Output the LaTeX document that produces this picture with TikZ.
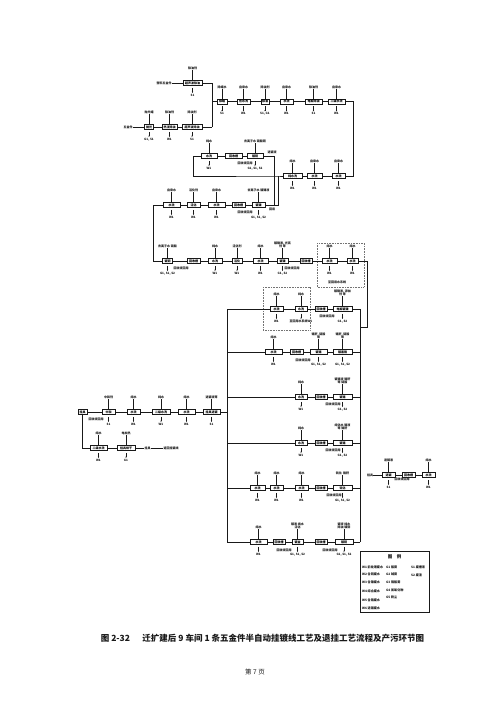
\documentclass[tikz,border=0pt]{standalone}
\usepackage{fontspec}
\newfontfamily\cjk{Noto Sans CJK SC}
\usetikzlibrary{arrows.meta}
\newcommand\ft{\cjk\bfseries\fontsize{3}{3.4}\selectfont}
\tikzset{
 ln/.style={line width=0.65pt, draw=black!90},
 pbox/.style={draw=black!90, line width=0.55pt, minimum height=5pt, inner sep=0pt, font=\ft},
 lab/.style={font=\ft, inner sep=0.2pt, align=center, text=black!90},
 arr/.style={line width=0.35pt, draw=black!90, -{Stealth[length=1.3pt,width=1.1pt]}, shorten <=2pt, shorten >=0.8pt},
 dbox/.style={draw=black!55, dash pattern=on 0.8pt off 0.8pt, line width=0.45pt},
 legtxt/.style={font=\cjk\bfseries\fontsize{3.1}{3.5}\selectfont, inner sep=0pt, anchor=west, text=black!90}
}
\newcommand\B[5]{\node[pbox,minimum width=#4pt] (#1) at (#2,#3) {#5};}
\newcommand\In[2]{\node[lab,anchor=south] (#1i) at ([yshift=10pt]#1.north) {#2}; \draw[ln,line width=0.45pt] (#1i.south) -- (#1.north);}
\newcommand\Out[2]{\node[lab,anchor=north] (#1o) at ([yshift=-8pt]#1.south) {#2}; \draw[arr] (#1.south) -- (#1o.north);}
\begin{document}
\begin{tikzpicture}[x=1pt,y=-1pt]
\useasboundingbox (0,0) rectangle (500,707);
\fill[white] (0,0) rectangle (500,707);

% ---------- top inputs ----------
\node[lab] (t1in) at (164,83) {塑料五金件};
\B{T1a}{192.5}{83}{19}{超声波除油} \In{T1a}{除油剂} \Out{T1a}{S1}
\draw[ln] (t1in) -- (T1a);
\node[lab] (t2in) at (128,127) {五金件};
\B{T2a}{149}{127}{9}{抛光} \In{T2a}{抛光蜡} \Out{T2a}{G1, S1}
\B{T2b}{169.5}{127}{15}{热浸除油} \In{T2b}{除油剂} \Out{T2b}{W1}
\B{T2c}{192}{127}{20}{超声波除油} \In{T2c}{除油剂} \Out{T2c}{S1}
\draw[ln] (t2in) -- (T2a); \draw[ln] (T2a) -- (T2b); \draw[ln] (T2b) -- (T2c);
\coordinate (jt) at (212,83); \coordinate (jb) at (212,127); \coordinate (jm) at (212,101.5);
\draw[ln] (T1a) -- (jt) -- (jb); \draw[ln] (T2c) -- (jb);

% ---------- main row ----------
\B{M1}{222}{101.5}{10}{除蜡} \In{M1}{除蜡水} \Out{M1}{S1}
\B{M2}{243.5}{101.5}{13}{热水洗} \In{M2}{自来水} \Out{M2}{W1}
\B{M3}{265}{101.5}{8}{除油} \In{M3}{除油剂} \Out{M3}{S1, G1}
\B{M4}{286.5}{101.5}{13}{水洗} \In{M4}{自来水} \Out{M4}{W1}
\B{M5}{313.5}{101.5}{17}{电解除油} \In{M5}{除油剂} \Out{M5}{S1}
\B{M6}{336.5}{101.5}{17}{二级水洗} \In{M6}{自来水} \Out{M6}{W1}
\draw[ln] (jm) -- (M1); \draw[ln] (M1) -- (M2); \draw[ln] (M2) -- (M3);
\draw[ln] (M3) -- (M4); \draw[ln] (M4) -- (M5); \draw[ln] (M5) -- (M6);
\coordinate (jr1) at (353,101.5); \coordinate (jr2) at (353,176);

% ---------- row B ----------
\B{B3}{338.5}{176}{13}{水洗} \In{B3}{自来水} \Out{B3}{W1}
\B{B2}{314.5}{176}{15}{水洗} \In{B2}{自来水} \Out{B2}{W1}
\B{B1}{292.5}{176}{19}{纯水洗} \In{B1}{纯水} \Out{B1}{W1}
\draw[ln] (M6) -- (jr1) -- (jr2) -- (B3); \draw[ln] (B3) -- (B2); \draw[ln] (B2) -- (B1);
\coordinate (jb1) at (278,176); \coordinate (jl1) at (193,176); \coordinate (jl2) at (193,156);
\coordinate (jc1) at (278,205);
\draw[ln] (B1) -- (jb1) -- (jl1) -- (jl2);

% ---------- row A ----------
\B{A1}{209}{156}{16}{水洗} \In{A1}{纯水} \Out{A1}{W1}
\B{A2}{233.5}{156}{17}{回收槽}
\B{A3}{255}{156}{16}{镀铜} \In{A3}{去离子水\ 硫酸铜} \Out{A3}{G1, S1, S2}
\node[lab] (uA) at (245,163) {回收液回用};
\draw[ln] (jl2) -- (A1); \draw[ln] (A1) -- (A2); \draw[ln] (A2) -- (A3);
\coordinate (ja1) at (274,156); \coordinate (ja2) at (274,205);
\draw[ln] (A3) -- (ja1) -- (ja2);
\node[lab] (tA) at (272,152.5) {退镀液};

% ---------- row C ----------
\B{C5}{258.5}{205}{13}{镀镍} \In{C5}{去离子水\ 镀镍液} \Out{C5}{G1, S1, S2}
\B{C4}{238.5}{205}{13}{回收槽}
\B{C3}{216.5}{205}{17}{水洗} \In{C3}{自来水} \Out{C3}{W1}
\B{C2}{193.5}{205}{13}{活化} \In{C2}{活化剂} \Out{C2}{W1}
\B{C1}{171.5}{205}{17}{水洗} \In{C1}{自来水} \Out{C1}{W1}
\node[lab] (uC) at (245,212) {回收液回用};
\node[lab] (tC) at (272,209) {回用};
\draw[ln] (jb1) -- (jc1) -- (C5); \draw[ln] (C5) -- (C4); \draw[ln] (C4) -- (C3);
\draw[ln] (C3) -- (C2); \draw[ln] (C2) -- (C1);
\coordinate (jc0) at (153,205); \coordinate (jd0) at (153,261);

% ---------- row D ----------
\B{D1}{167.5}{261}{10}{镀铜} \In{D1}{去离子水\ 硫酸} \Out{D1}{G1, S1, S2}
\B{D2}{193.5}{261}{13}{回收槽}
\B{D3}{215}{261}{14}{水洗} \In{D3}{纯水} \Out{D3}{W1}
\B{D4}{237}{261}{10}{活化} \In{D4}{活化剂} \Out{D4}{W1}
\B{D5}{260.5}{261}{15}{水洗} \In{D5}{纯水} \Out{D5}{W1}
\B{D6}{282.5}{261}{11}{镀镍} \In{D6}{镀镍液,\ 光亮\\剂\ 等} \Out{D6}{G1, S2}
\B{D7}{306}{261}{12}{回收槽}
\B{D8}{329.5}{261}{15}{水洗} \In{D8}{纯水} \Out{D8}{W1}
\B{D9}{352.5}{261}{11}{水洗} \In{D9}{纯水} \Out{D9}{W1}
\node[lab] (uD1) at (181,268) {回收液回用};
\node[lab] (uD2) at (292,268) {回收液回用};
\node[lab] (uD3) at (337,282) {至回用水系统};
\draw[dbox] (317,243) rectangle (364,287);
\draw[ln] (C1) -- (jc0) -- (jd0) -- (D1); \draw[ln] (D1) -- (D2); \draw[ln] (D2) -- (D3);
\draw[ln] (D3) -- (D4); \draw[ln] (D4) -- (D5); \draw[ln] (D5) -- (D6);
\draw[ln] (D6) -- (D7); \draw[ln] (D7) -- (D8); \draw[ln] (D8) -- (D9);
\coordinate (jd9) at (367,261); \coordinate (jd10) at (367,327); \coordinate (jr) at (360,327);
\draw[ln] (D9) -- (jd9) -- (jd10) -- (jr);

% ---------- buses ----------
\coordinate (lbE) at (227,309); \coordinate (lbF) at (227,352); \coordinate (lbG) at (227,397);
\coordinate (lbL) at (227,412); \coordinate (lbH) at (227,443); \coordinate (lbI) at (227,488);
\coordinate (lbJ) at (227,542);
\coordinate (rbE) at (360,309); \coordinate (rbF) at (360,352); \coordinate (rbG) at (360,397);
\coordinate (rbH) at (360,443); \coordinate (rbI) at (360,488); \coordinate (rbJ) at (360,542);
\draw[ln] (lbE) -- (lbJ);
\draw[ln] (rbE) -- (rbJ);

% ---------- row E ----------
\B{E1}{276.5}{309}{13}{水洗} \In{E1}{纯水} \Out{E1}{W1}
\B{E2}{301}{309}{12}{水洗} \In{E2}{纯水} \Out{E2}{至回用水系统W1}
\B{E3}{321}{309}{12}{回收槽}
\B{E4}{342.5}{309}{19}{电解镀镍} \In{E4}{镀镍液,\ 添加\\剂\ 等} \Out{E4}{G1, S2}
\node[lab] (uE) at (327,316) {回收液回用};
\draw[dbox] (263,287) rectangle (310,330);
\draw[ln] (lbE) -- (E1); \draw[ln] (E1) -- (E2); \draw[ln] (E2) -- (E3);
\draw[ln] (E3) -- (E4); \draw[ln] (E4) -- (rbE);

% ---------- row F ----------
\B{F1}{273.5}{352}{17}{水洗} \In{F1}{纯水} \Out{F1}{W1}
\B{F2}{296.5}{352}{13}{回收槽}
\B{F3}{318.5}{352}{17}{镀铬} \In{F3}{铬酐,\ 硫酸\\等} \Out{F3}{G1, S1, S2}
\B{F4}{342.5}{352}{19}{镀黑铬} \In{F4}{铬酐,\ 硫酸\\等} \Out{F4}{G1, S1, S2}
\node[lab] (uF) at (303,360) {回收液回用};
\draw[ln] (lbF) -- (F1); \draw[ln] (F1) -- (F2); \draw[ln] (F2) -- (F3);
\draw[ln] (F3) -- (F4); \draw[ln] (F4) -- (rbF);

% ---------- row G ----------
\B{G1}{301}{397}{12}{水洗} \In{G1}{纯水} \Out{G1}{W1}
\B{G2}{321}{397}{12}{回收槽}
\B{G3}{342.5}{397}{19}{镀铬} \In{G3}{镀铬液\ 铬酐\\等\ 硫酸} \Out{G3}{G1, S2}
\node[lab] (uG) at (333,404) {回收液回用};
\draw[ln] (lbG) -- (G1); \draw[ln] (G1) -- (G2); \draw[ln] (G2) -- (G3); \draw[ln] (G3) -- (rbG);

% ---------- stripping branch ----------
\B{L6}{211.5}{412}{17}{挂具退镀} \In{L6}{退镀液等} \Out{L6}{S1}
\B{L5}{186.5}{412}{17}{水洗} \In{L5}{纯水} \Out{L5}{W1}
\B{L4}{161}{412}{18}{二级水洗} \In{L4}{纯水} \Out{L4}{W1}
\B{L3}{133.5}{412}{13}{水洗} \In{L3}{纯水} \Out{L3}{W1}
\B{L2}{108.5}{412}{13}{中和} \In{L2}{中和剂} \Out{L2}{S1}
\B{L1}{82.5}{412}{9}{挂具}
\node[lab] (uL) at (96,419) {回收液回用};
\draw[ln] (lbL) -- (L6); \draw[ln] (L6) -- (L5); \draw[ln] (L5) -- (L4);
\draw[ln] (L4) -- (L3); \draw[ln] (L3) -- (L2); \draw[ln] (L2) -- (L1);
\coordinate (jl0) at (82.5,448);
\B{LL1}{98.5}{448}{17}{二级水洗} \In{LL1}{纯水} \Out{LL1}{W1}
\B{LL2}{126}{448}{18}{挂具烘干} \In{LL2}{电加热} \Out{LL2}{G1}
\node[lab] (ll3) at (147.5,448) {挂具};
\node[lab] (ll4) at (171,448) {返回挂镀线};
\draw[ln] (L1) -- (jl0) -- (LL1); \draw[ln] (LL1) -- (LL2);
\draw[ln] (LL2) -- (ll3); \draw[ln] (ll3) -- (ll4);

% ---------- row H ----------
\B{H1}{301}{443}{12}{水洗} \In{H1}{纯水} \Out{H1}{W1}
\B{H2}{321}{443}{12}{回收槽}
\B{H3}{342.5}{443}{19}{镀铬} \In{H3}{纯化水\ 铬液\\等\ 铬酐} \Out{H3}{G1, S2}
\node[lab] (uH) at (333,450) {回收液回用};
\draw[ln] (lbH) -- (H1); \draw[ln] (H1) -- (H2); \draw[ln] (H2) -- (H3); \draw[ln] (H3) -- (rbH);

% ---------- row I ----------
\B{I1}{257.5}{488}{15}{水洗} \In{I1}{纯水} \Out{I1}{W1}
\B{I2}{276.5}{488}{13}{水洗} \In{I2}{纯水} \Out{I2}{W1}
\B{I3}{301.5}{488}{13}{水洗} \In{I3}{纯水} \Out{I3}{W1}
\B{I4}{321}{488}{12}{回收槽}
\B{I5}{342.5}{488}{19}{钝化} \In{I5}{钝化\ \ 铬酐} \Out{I5}{G1, S1, S2}
\node[lab] (uI) at (334,495) {回收液回用};
\draw[ln] (lbI) -- (I1); \draw[ln] (I1) -- (I2); \draw[ln] (I2) -- (I3);
\draw[ln] (I3) -- (I4); \draw[ln] (I4) -- (I5); \draw[ln] (I5) -- (rbI);

% ---------- row J ----------
\B{J1}{258.5}{542}{17}{水洗} \In{J1}{纯水} \Out{J1}{W1}
\B{J2}{279}{542}{12}{回收槽}
\B{J3}{297.5}{542}{11}{镀金} \In{J3}{镀液\ 纯水\\活化} \Out{J3}{G1, S1, S2}
\B{J4}{321}{542}{12}{回收槽}
\B{J5}{344}{542}{18}{镀铜} \In{J5}{镀液\ 纯水\\除油\ 镀铜} \Out{J5}{G1, S1, S2}
\node[lab] (uJ1) at (284,550) {回收液回用};
\node[lab] (uJ2) at (330,550) {回收液回用};
\draw[ln] (lbJ) -- (J1); \draw[ln] (J1) -- (J2); \draw[ln] (J2) -- (J3);
\draw[ln] (J3) -- (J4); \draw[ln] (J4) -- (J5); \draw[ln] (J5) -- (rbJ);

% ---------- separate stripping row ----------
\node[lab] (r0) at (370,475) {挂具};
\B{R1}{388.5}{475}{13}{退镀} \In{R1}{退镀液} \Out{R1}{S1}
\B{R2}{408.5}{475}{13}{回收槽}
\B{R3}{428.5}{475}{13}{水洗} \In{R3}{纯水} \Out{R3}{W1}
\node[lab] (uR) at (402,479.5) {回收液回用};
\draw[ln] (r0) -- (R1); \draw[ln] (R1) -- (R2); \draw[ln] (R2) -- (R3);

% ---------- legend ----------
\node[draw=black!90, line width=0.55pt, minimum width=69pt, minimum height=61pt, inner sep=0pt] (leg) at (394.5,581.5) {};
\node[font=\cjk\bfseries\fontsize{4.5}{5}\selectfont, text=black!90] (legt) at (394.5,557) {图\quad 例};
\node[legtxt] (w1) at (362,567) {W1 前处理废水};
\node[legtxt] (w2) at (362,574.5) {W2 含铜废水};
\node[legtxt] (w3) at (362,582) {W3 含镍废水};
\node[legtxt] (w4) at (362,591) {W4 综合废水};
\node[legtxt] (w5) at (362,600) {W5 含铬废水};
\node[legtxt] (w6) at (362,608) {W6 退镀废水};
\node[legtxt] (g1) at (386,567) {G1 酸雾};
\node[legtxt] (g2) at (386,574.5) {G2 碱雾};
\node[legtxt] (g3) at (386,582) {G3 铬酸雾};
\node[legtxt] (g4) at (386,590) {G4 氮氧化物};
\node[legtxt] (g5) at (386,597) {G5 粉尘};
\node[legtxt] (s1) at (411,567) {S1 废槽液};
\node[legtxt] (s2) at (411,575) {S2 废渣};

% ---------- caption ----------
\node[font=\cjk\bfseries\fontsize{8.5}{9}\selectfont, text=black!90] (cap) at (262.5,638)
 {图 2-32\quad\ \ 迁扩建后 9 车间 1 条五金件半自动挂镀线工艺及退挂工艺流程及产污环节图};
\node[font=\cjk\fontsize{6.5}{7}\selectfont, text=black!90] (pg) at (255,672) {第 7 页};
\end{tikzpicture}
\end{document}
